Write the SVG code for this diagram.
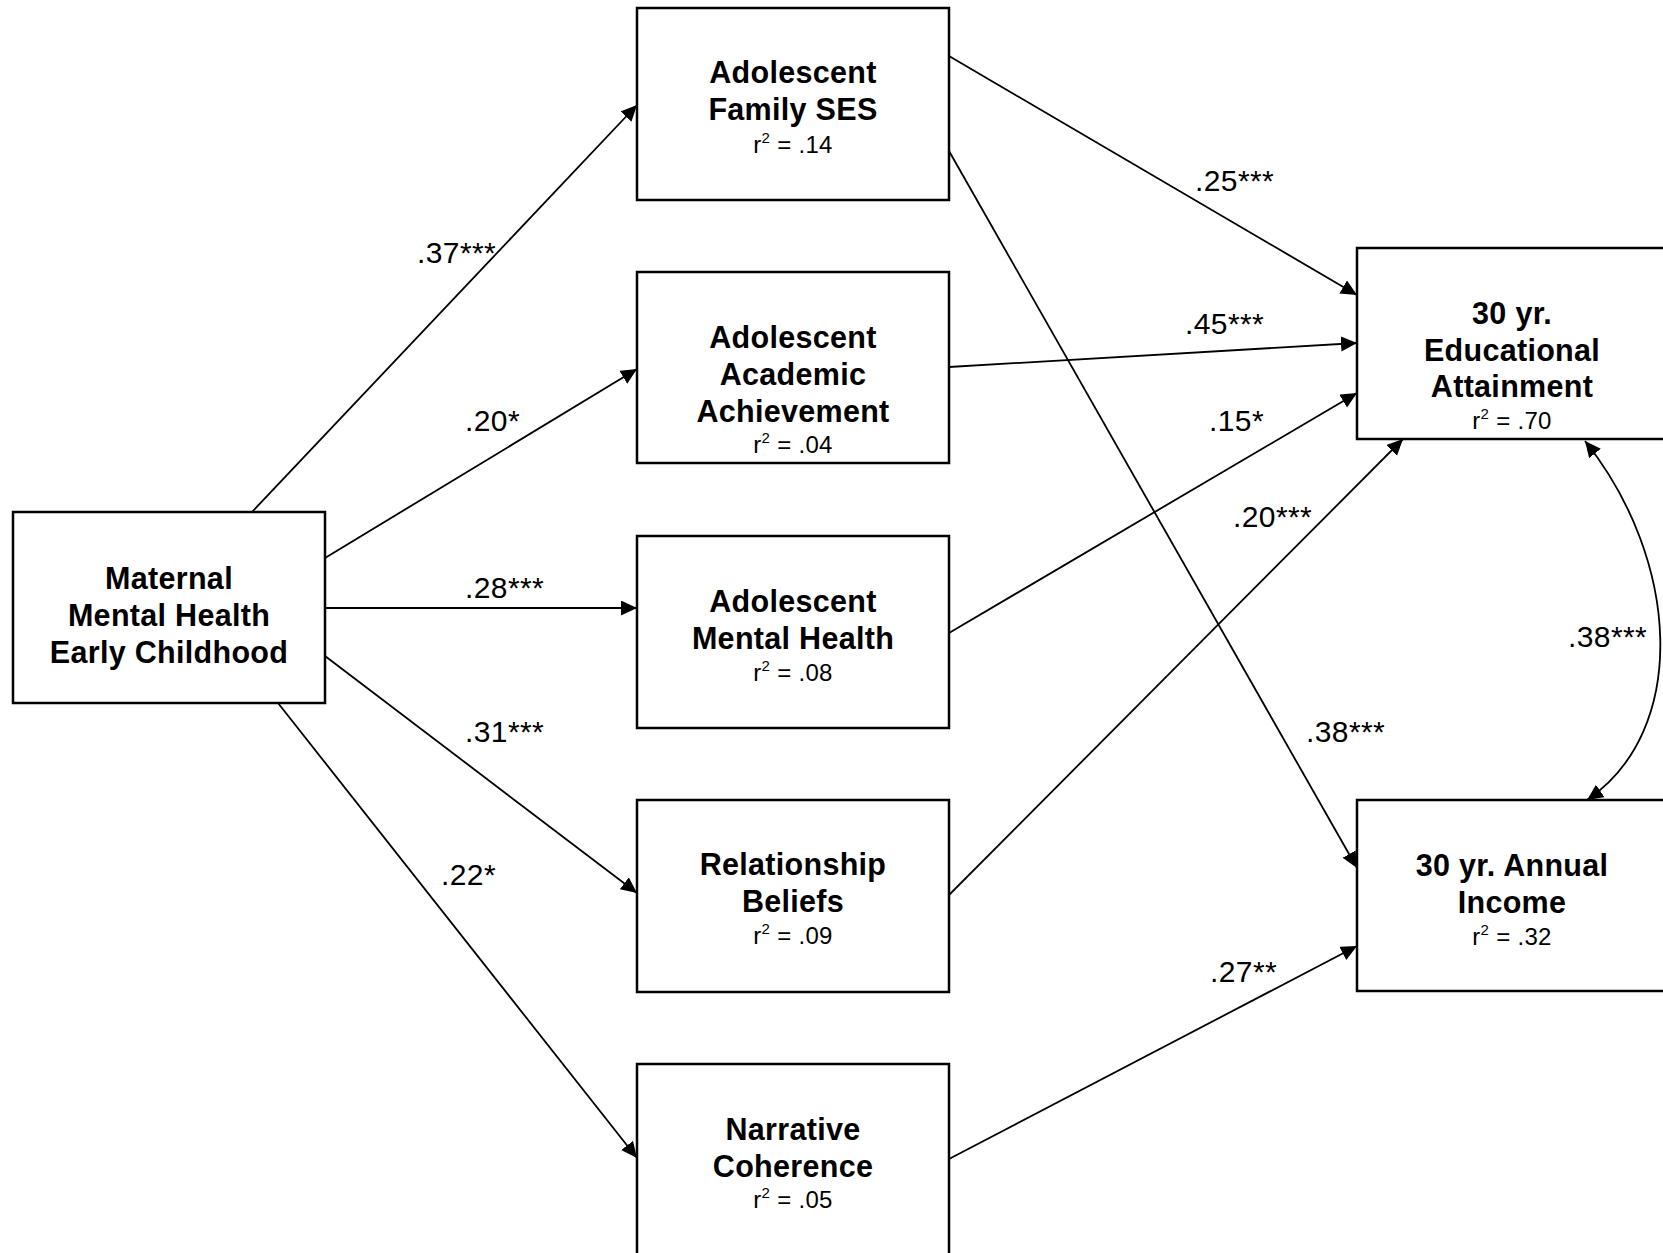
<svg xmlns="http://www.w3.org/2000/svg" width="1663" height="1253" viewBox="0 0 1663 1253">
<style>
.box{fill:#fff;stroke:#000;stroke-width:2.5}
.t{font-family:"Liberation Sans",Arial,Helvetica,sans-serif;font-size:30.5px;font-weight:bold;text-anchor:middle;fill:#000;letter-spacing:0.3px}
.r{font-family:"Liberation Sans",Arial,Helvetica,sans-serif;font-size:24px;text-anchor:middle;fill:#000;letter-spacing:0.3px}
.sup{font-size:15px}
.lbl{font-family:"Liberation Sans",Arial,Helvetica,sans-serif;font-size:30px;fill:#000;letter-spacing:0.4px}
.edge{fill:none;stroke:#000;stroke-width:1.8;marker-end:url(#ah)}
</style>
<defs>
<marker id="ah" markerUnits="userSpaceOnUse" markerWidth="18" markerHeight="16" refX="16" refY="7.5" orient="auto-start-reverse">
<path d="M0,0 L16,7.5 L0,15 z" fill="#000"/>
</marker>
</defs>
<rect width="1663" height="1253" fill="#fff"/>

<g id="connectors">
<path class="edge" d="M252,512 L637,105"/>
<path class="edge" d="M325,558 L637,369"/>
<path class="edge" d="M325,608 L637,608"/>
<path class="edge" d="M325,656 L637,893"/>
<path class="edge" d="M278,703 L637,1158"/>
<path class="edge" d="M949,56 L1357,295"/>
<path class="edge" d="M949,151 L1357,868"/>
<path class="edge" d="M949,367 L1357,343"/>
<path class="edge" d="M949,633 L1357,393"/>
<path class="edge" d="M949,895 L1403,439"/>
<path class="edge" d="M949,1159 L1357,946"/>
<path class="edge" style="marker-start:url(#ah)" d="M1585,441 C1680,560 1690,730 1587,800"/>
<text class="lbl" x="417" y="263">.37***</text>
<text class="lbl" x="465" y="431">.20*</text>
<text class="lbl" x="465" y="598">.28***</text>
<text class="lbl" x="465" y="742">.31***</text>
<text class="lbl" x="441" y="885">.22*</text>
<text class="lbl" x="1195" y="191">.25***</text>
<text class="lbl" x="1185" y="334">.45***</text>
<text class="lbl" x="1209" y="431">.15*</text>
<text class="lbl" x="1233" y="527">.20***</text>
<text class="lbl" x="1306" y="742">.38***</text>
<text class="lbl" x="1210" y="982">.27**</text>
<text class="lbl" x="1568" y="647">.38***</text>
</g>

<g id="maternal">
<rect class="box" x="13" y="512" width="312" height="191"/>
<text class="t" x="169" y="589">Maternal</text>
<text class="t" x="169" y="626">Mental Health</text>
<text class="t" x="169" y="663">Early Childhood</text>
</g>

<g id="family-ses">
<rect class="box" x="637" y="8" width="312" height="192"/>
<text class="t" x="793" y="83">Adolescent</text>
<text class="t" x="793" y="120">Family SES</text>
<text class="r" x="793" y="153">r<tspan class="sup" dy="-10">2</tspan><tspan dy="10"> = .14</tspan></text>
</g>

<g id="academic">
<rect class="box" x="637" y="272" width="312" height="191"/>
<text class="t" x="793" y="348">Adolescent</text>
<text class="t" x="793" y="385">Academic</text>
<text class="t" x="793" y="422">Achievement</text>
<text class="r" x="793" y="453">r<tspan class="sup" dy="-10">2</tspan><tspan dy="10"> = .04</tspan></text>
</g>

<g id="mental-health">
<rect class="box" x="637" y="536" width="312" height="192"/>
<text class="t" x="793" y="612">Adolescent</text>
<text class="t" x="793" y="649">Mental Health</text>
<text class="r" x="793" y="681">r<tspan class="sup" dy="-10">2</tspan><tspan dy="10"> = .08</tspan></text>
</g>

<g id="relationship">
<rect class="box" x="637" y="800" width="312" height="192"/>
<text class="t" x="793" y="875">Relationship</text>
<text class="t" x="793" y="912">Beliefs</text>
<text class="r" x="793" y="944">r<tspan class="sup" dy="-10">2</tspan><tspan dy="10"> = .09</tspan></text>
</g>

<g id="narrative">
<rect class="box" x="637" y="1064" width="312" height="192"/>
<text class="t" x="793" y="1140">Narrative</text>
<text class="t" x="793" y="1177">Coherence</text>
<text class="r" x="793" y="1208">r<tspan class="sup" dy="-10">2</tspan><tspan dy="10"> = .05</tspan></text>
</g>

<g id="education">
<rect class="box" x="1357" y="248" width="312" height="191"/>
<text class="t" x="1512" y="324">30 yr.</text>
<text class="t" x="1512" y="361">Educational</text>
<text class="t" x="1512" y="397">Attainment</text>
<text class="r" x="1512" y="429">r<tspan class="sup" dy="-10">2</tspan><tspan dy="10"> = .70</tspan></text>
</g>

<g id="income">
<rect class="box" x="1357" y="800" width="312" height="191"/>
<text class="t" x="1512" y="876">30 yr. Annual</text>
<text class="t" x="1512" y="913">Income</text>
<text class="r" x="1512" y="945">r<tspan class="sup" dy="-10">2</tspan><tspan dy="10"> = .32</tspan></text>
</g>
</svg>
